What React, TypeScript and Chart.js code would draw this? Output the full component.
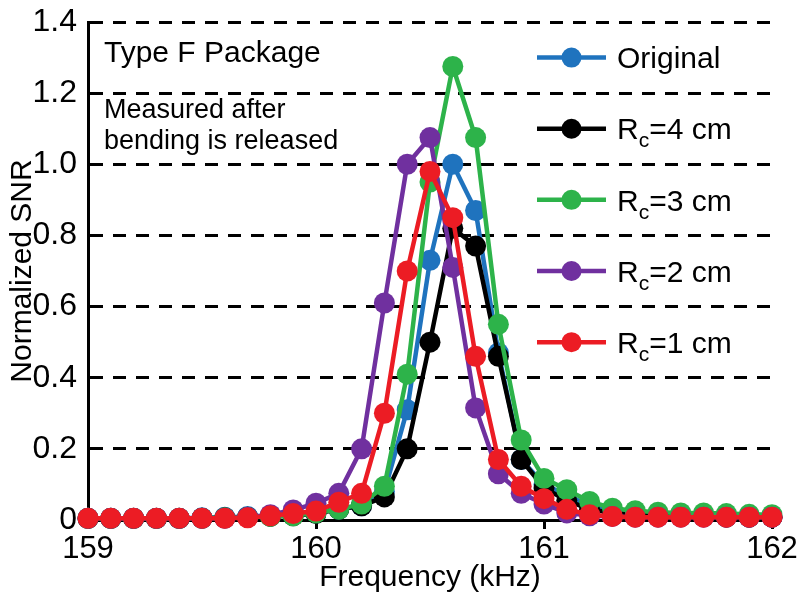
import React, { useEffect, useRef } from 'react';
import { Chart, registerables } from 'chart.js';

Chart.register(...registerables);

const frequency = [159.0, 159.1, 159.2, 159.3, 159.4, 159.5, 159.6, 159.7, 159.8, 159.9, 160.0, 160.1, 160.2, 160.3, 160.4, 160.5, 160.6, 160.7, 160.8, 160.9, 161.0, 161.1, 161.2, 161.3, 161.4, 161.5, 161.6, 161.7, 161.8, 161.9, 162.0];

const original = [0.005, 0.005, 0.005, 0.005, 0.005, 0.006, 0.008, 0.01, 0.012, 0.015, 0.02, 0.03, 0.04, 0.08, 0.31, 0.73, 1.0, 0.87, 0.47, 0.17, 0.1, 0.07, 0.04, 0.025, 0.02, 0.015, 0.012, 0.01, 0.01, 0.008, 0.008];
const rc4 = [0.004, 0.004, 0.004, 0.004, 0.004, 0.005, 0.006, 0.008, 0.01, 0.012, 0.018, 0.03, 0.04, 0.065, 0.2, 0.5, 0.82, 0.77, 0.46, 0.17, 0.09, 0.055, 0.03, 0.02, 0.015, 0.012, 0.01, 0.01, 0.008, 0.008, 0.008];
const rc3 = [0.005, 0.005, 0.005, 0.005, 0.005, 0.005, 0.006, 0.008, 0.01, 0.012, 0.02, 0.03, 0.045, 0.095, 0.41, 0.95, 1.275, 1.075, 0.55, 0.225, 0.117, 0.085, 0.052, 0.033, 0.026, 0.022, 0.02, 0.02, 0.018, 0.016, 0.015];
const rc2 = [0.005, 0.005, 0.005, 0.005, 0.005, 0.005, 0.005, 0.008, 0.015, 0.028, 0.047, 0.075, 0.2, 0.61, 1.0, 1.075, 0.71, 0.315, 0.13, 0.075, 0.045, 0.02, 0.012, 0.01, 0.008, 0.008, 0.008, 0.008, 0.008, 0.008, 0.008];
const rc1 = [0.005, 0.005, 0.005, 0.005, 0.005, 0.005, 0.005, 0.006, 0.012, 0.018, 0.025, 0.05, 0.075, 0.3, 0.7, 0.98, 0.85, 0.46, 0.17, 0.095, 0.06, 0.03, 0.015, 0.01, 0.008, 0.008, 0.008, 0.008, 0.008, 0.008, 0.008];

const seriesColors = ['#1f73be', '#000000', '#2db34a', '#70309f', '#ec1c24'];
const legendMain = ['Original', 'R', 'R', 'R', 'R'];
const legendSub = ['', 'c', 'c', 'c', 'c'];
const legendRest = ['', '=4 cm', '=3 cm', '=2 cm', '=1 cm'];
const legendLevels = [1.3, 1.1, 0.9, 0.7, 0.5];
const annotationTitle = 'Type F Package';
const annotationNote = ['Measured after', 'bending is released'];

const FONT = "'Liberation Sans', Arial, sans-serif";

const overlayPlugin = {
  id: 'overlay',
  afterDraw(chart: any) {
    const ctx = chart.ctx as CanvasRenderingContext2D;
    const ys = chart.scales.y;
    const left = chart.chartArea.left;
    ctx.save();
    ctx.fillStyle = '#000';
    ctx.textAlign = 'left';
    ctx.textBaseline = 'middle';
    ctx.font = `30px ${FONT}`;
    ctx.fillText(annotationTitle, left + 16, 54);
    ctx.font = `27px ${FONT}`;
    ctx.fillText(annotationNote[0], left + 16, 111);
    ctx.fillText(annotationNote[1], left + 16, 142);

    for (let i = 0; i < legendMain.length; i++) {
      const y = ys.getPixelForValue(legendLevels[i]);
      const color = seriesColors[i];
      ctx.strokeStyle = color;
      ctx.lineWidth = 4.5;
      ctx.beginPath();
      ctx.moveTo(537, y);
      ctx.lineTo(606, y);
      ctx.stroke();
      ctx.fillStyle = color;
      ctx.beginPath();
      ctx.arc(571.5, y, 10, 0, Math.PI * 2);
      ctx.fill();
      ctx.fillStyle = '#000';
      ctx.textBaseline = 'alphabetic';
      const base = y + 10.7;
      let x = 617;
      ctx.font = `30px ${FONT}`;
      ctx.fillText(legendMain[i], x, base);
      x += ctx.measureText(legendMain[i]).width;
      if (legendSub[i]) {
        ctx.font = `21px ${FONT}`;
        ctx.fillText(legendSub[i], x, base + 8);
        x += ctx.measureText(legendSub[i]).width;
        ctx.font = `30px ${FONT}`;
        ctx.fillText(legendRest[i], x, base);
      }
    }
    ctx.restore();
  },
};

function makeData(vals: number[]) {
  return frequency.map((f, i) => ({ x: f, y: vals[i] }));
}

export default function App() {
  const ref = useRef<HTMLCanvasElement | null>(null);
  useEffect(() => {
    if (!ref.current) return;
    Chart.defaults.font.family = FONT;
    Chart.defaults.color = '#000';
    const allSeries = [original, rc4, rc3, rc2, rc1];
    const orders = [5, 4, 3, 2, 1];
    const chart = new Chart(ref.current, {
      type: 'line',
      data: {
        datasets: allSeries.map((s, i) => ({
          label: legendMain[i] + legendSub[i] + legendRest[i],
          data: makeData(s),
          borderColor: seriesColors[i],
          backgroundColor: seriesColors[i],
          pointBackgroundColor: seriesColors[i],
          pointBorderColor: seriesColors[i],
          pointBorderWidth: 0,
          pointRadius: 10.5,
          borderWidth: 4.5,
          tension: 0,
          order: orders[i],
          clip: false as any,
        })),
      },
      options: {
        responsive: false,
        animation: false,
        events: [],
        layout: { padding: { top: 22, right: 28, bottom: 0, left: 0 } },
        plugins: { legend: { display: false }, tooltip: { enabled: false } },
        scales: {
          x: {
            type: 'linear',
            min: 159,
            max: 162,
            ticks: {
              stepSize: 1,
              padding: 2,
              font: { size: 31 },
              color: '#000',
              callback: (v: any) => String(v),
            },
            grid: {
              drawOnChartArea: false,
              drawTicks: true,
              tickLength: 9,
              tickWidth: 3,
              tickColor: '#000',
              color: '#000',
            },
            border: { display: true, color: '#000', width: 3 },
            title: {
              display: true,
              text: 'Frequency (kHz)',
              font: { size: 30, lineHeight: 1.2 },
              color: '#000',
              padding: { top: 0, bottom: 9 },
            },
            afterFit: (scale: any) => {
              scale.height = 85;
              scale.paddingLeft = 0;
              scale.paddingRight = 0;
            },
          },
          y: {
            type: 'linear',
            min: 0,
            max: 1.4,
            ticks: {
              stepSize: 0.2,
              padding: 11,
              font: { size: 32 },
              color: '#000',
              callback: (v: any) => (Math.abs(v) < 1e-9 ? '0' : Number(v).toFixed(1)),
            },
            grid: {
              drawTicks: false,
              color: '#000',
              lineWidth: 3,
            },
            border: { display: true, color: '#000', width: 3, dash: [13, 10] },
            title: {
              display: true,
              text: 'Normalized SNR',
              font: { size: 30, lineHeight: 1.2 },
              color: '#000',
              padding: { top: 5, bottom: 0 },
            },
            afterFit: (scale: any) => {
              scale.width = 88;
              scale.paddingTop = 0;
              scale.paddingBottom = 0;
            },
          },
        },
      } as any,
      plugins: [overlayPlugin],
    });
    return () => chart.destroy();
  }, []);
  return (
    <div style={{ position: 'fixed', left: 0, top: 0, width: 800, height: 605, background: '#fff' }}>
      <canvas ref={ref} width={800} height={605} style={{ width: 800, height: 605 }} />
    </div>
  );
}
